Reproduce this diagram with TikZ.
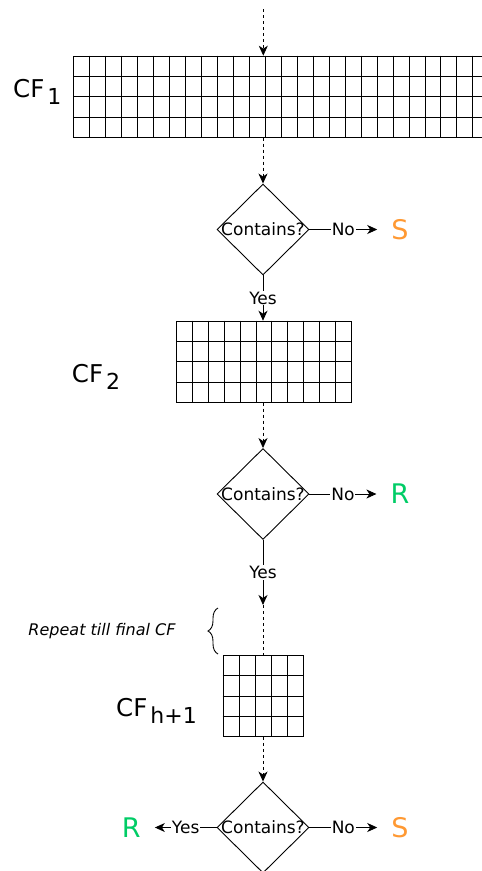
\documentclass[tikz,border=0pt]{standalone}
\usepackage{fontspec}
\setmainfont{DejaVu Sans}
\usetikzlibrary{shapes.geometric,arrows.meta,decorations.pathreplacing,calc}
\definecolor{sorange}{HTML}{FF9933}
\definecolor{rgreen}{HTML}{00CC66}
\newcommand{\cfsub}[1]{\kern3pt\raisebox{-7pt}{\fontsize{22}{22}\selectfont #1}}
\begin{document}
\begin{tikzpicture}[x=1pt,y=-1pt,
  every node/.style={font=\fontsize{17}{20}\selectfont},
  dec/.style={diamond, draw, line width=0.9pt, minimum width=92pt, minimum height=91pt, inner sep=0pt, label={center:Contains?}},
  gridbox/.style={draw, line width=0.9pt, inner sep=0pt, anchor=north west},
  res/.style={font=\fontsize{27}{30}\selectfont, inner xsep=14pt, inner ysep=0pt},
  cflab/.style={font=\fontsize{24.5}{28}\selectfont, inner sep=0pt, anchor=base west},
  lab/.style={fill=white, inner sep=1pt},
  arr/.style={line width=0.9pt, -{Stealth[length=10pt,width=9pt,inset=3pt]}},
  dashln/.style={line width=0.9pt, dash pattern=on 3pt off 3pt},
  plain/.style={line width=0.9pt}
]
\useasboundingbox (0,0) rectangle (482,871);
\clip (0,0) rectangle (482,871);

% grids
\node[gridbox, minimum width=414.7pt, minimum height=81pt] (cf1) at (73.3,55.7) {};
\foreach \i in {1,...,25}
  \draw[plain] ($(cf1.north west)!\i/26!(cf1.north east)$) -- ($(cf1.south west)!\i/26!(cf1.south east)$);
\foreach \j in {1,2,3}
  \draw[plain] ($(cf1.north west)!\j/4!(cf1.south west)$) -- ($(cf1.north east)!\j/4!(cf1.south east)$);

\node[gridbox, minimum width=175pt, minimum height=81pt] (cf2) at (176,320.7) {};
\foreach \i in {1,...,10}
  \draw[plain] ($(cf2.north west)!\i/11!(cf2.north east)$) -- ($(cf2.south west)!\i/11!(cf2.south east)$);
\foreach \j in {1,2,3}
  \draw[plain] ($(cf2.north west)!\j/4!(cf2.south west)$) -- ($(cf2.north east)!\j/4!(cf2.south east)$);

\node[gridbox, minimum width=80.6pt, minimum height=81pt] (cf3) at (222.7,655) {};
\foreach \i in {1,...,4}
  \draw[plain] ($(cf3.north west)!\i/5!(cf3.north east)$) -- ($(cf3.south west)!\i/5!(cf3.south east)$);
\foreach \j in {1,2,3}
  \draw[plain] ($(cf3.north west)!\j/4!(cf3.south west)$) -- ($(cf3.north east)!\j/4!(cf3.south east)$);

% labels of grids
\node[cflab] (l1) at (13,97) {CF\cfsub{1}};
\node[cflab] (l2) at (71.7,382) {CF\cfsub{2}};
\node[cflab] (l3) at (116,716) {CF\cfsub{h+1}};

% diamonds
\node[dec] (d1) at (263,229.5) {};
\node[dec] (d2) at (263,494) {};
\node[dec] (d3) at (263,827.5) {};

% results
\node[res, text=sorange] (s1) at (400,229.5) {S};
\node[res, text=rgreen] (r2) at (400,494) {R};
\node[res, text=sorange] (s3) at (400,827.5) {S};
\node[res, text=rgreen] (r3) at (131.3,827.5) {R};

% connectors
\coordinate (top) at (263.3,9);
\draw[dashln, arr] (top) -- (top |- cf1.north);
\draw[dashln, arr] (d1.north |- cf1.south) -- (d1.north);
\draw[arr] (d1.east) -- node[lab] {No} (d1.east -| s1.west);
\draw[arr] (d1.south) -- node[lab] {Yes} (d1.south |- cf2.north);
\draw[dashln, arr] (d2.north |- cf2.south) -- (d2.north);
\draw[arr] (d2.east) -- node[lab] {No} (d2.east -| r2.west);
\coordinate (c3) at (263,605);
\draw[arr] (d2.south) -- node[lab] {Yes} (c3);
\draw[dashln] (c3) -- (c3 |- cf3.north);
\draw[dashln, arr] (d3.north |- cf3.south) -- (d3.north);
\draw[arr] (d3.east) -- node[lab] {No} (d3.east -| s3.west);
\draw[arr] (d3.west) -- node[lab] {Yes} (d3.west -| r3.east);

% brace
\coordinate (bb) at (218,654);
\coordinate (bt) at (218,608);
\draw[plain, decorate, decoration={brace, amplitude=10pt}] (bb) -- (bt);
\node[font=\fontsize{16}{19}\selectfont\itshape] (rep) at (102,631) {Repeat till final CF};
\end{tikzpicture}
\end{document}
